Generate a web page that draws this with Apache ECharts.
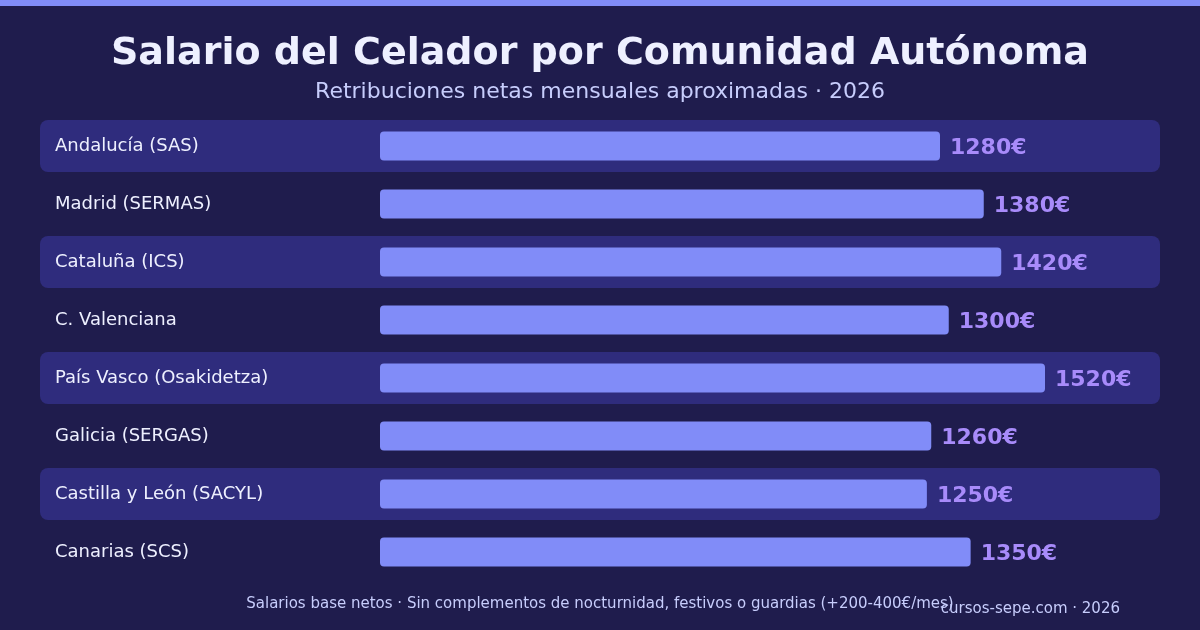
<!DOCTYPE html>
<html>
<head>
<meta charset="utf-8">
<script src="https://cdn.jsdelivr.net/npm/echarts@6/dist/echarts.min.js"></script>
<style>html,body{margin:0;padding:0;background:#1f1c4d;}#c{width:1200px;height:630px;}</style>
</head>
<body>
<div id="c"></div>
<script>
const categories = ["Andalucía (SAS)", "Madrid (SERMAS)", "Cataluña (ICS)", "C. Valenciana", "País Vasco (Osakidetza)", "Galicia (SERGAS)", "Castilla y León (SACYL)", "Canarias (SCS)"];
const salaries = [1280, 1380, 1420, 1300, 1520, 1260, 1250, 1350];
const titleText = "Salario del Celador por Comunidad Autónoma";
const subtitleText = "Retribuciones netas mensuales aproximadas · 2026";
const footnoteText = "Salarios base netos · Sin complementos de nocturnidad, festivos o guardias (+200-400€/mes)";
const sourceText = "cursos-sepe.com · 2026";

const chart = echarts.init(document.getElementById('c'));
chart.setOption({
  backgroundColor: '#1f1c4d',
  animation: false,
  title: {
    text: titleText, subtext: subtitleText, left: 'center', top: 30, itemGap: 8,
    textStyle: {color: '#eef0ff', fontSize: 38, fontWeight: 'bold', fontFamily: 'DejaVu Sans'},
    subtextStyle: {color: '#c7cdfc', fontSize: 22, fontFamily: 'DejaVu Sans'}
  },
  grid: {left: 380, right: 120, top: 117, height: 464},
  xAxis: {type: 'value', min: 0, max: 1600, show: false},
  yAxis: {
    type: 'category', data: categories, inverse: true, z: 10,
    axisLine: {show: false}, axisTick: {show: false}, splitLine: {show: false},
    axisLabel: {align: 'left', margin: 325, color: '#eef0ff', fontSize: 18, fontFamily: 'DejaVu Sans', padding: [0, 0, 2, 0]}
  },
  graphic: [
    {type: 'rect', shape: {x: 0, y: 0, width: 1200, height: 6}, style: {fill: '#818cf8'}, z: 10},
    {type: 'text', x: 600, y: 604, style: {text: footnoteText, fill: '#c7cdfc', font: '15px "DejaVu Sans"', textAlign: 'center', textVerticalAlign: 'middle'}},
    {type: 'text', x: 1120, y: 609, style: {text: sourceText, fill: '#c7cdfc', font: '15px "DejaVu Sans"', textAlign: 'right', textVerticalAlign: 'middle'}}
  ],
  series: [
    {
      type: 'custom', clip: false, silent: true, z: 0, zlevel: 0,
      data: categories.map((c, i) => [0, i]),
      encode: {x: 0, y: 1},
      renderItem: function (params, api) {
        const idx = api.value(1);
        if (idx % 2 !== 0) return null;
        const p = api.coord([0, idx]);
        const h = api.size([0, 1])[1];
        return {
          type: 'rect', z2: -10,
          shape: {x: 40, y: p[1] - h / 2 + 3, width: 1120, height: h - 6, r: 8},
          style: {fill: '#2f2c7d'}
        };
      }
    },
    {
      type: 'bar', data: salaries, barWidth: 29, z: 3,
      itemStyle: {color: '#818cf8', borderRadius: 4},
      label: {
        show: true, position: 'right', distance: 10, offset: [0, 2],
        formatter: '{c}€', color: '#a88bfa', fontSize: 22, fontWeight: 'bold', fontFamily: 'DejaVu Sans'
      }
    }
  ]
});
</script>
</body>
</html>
